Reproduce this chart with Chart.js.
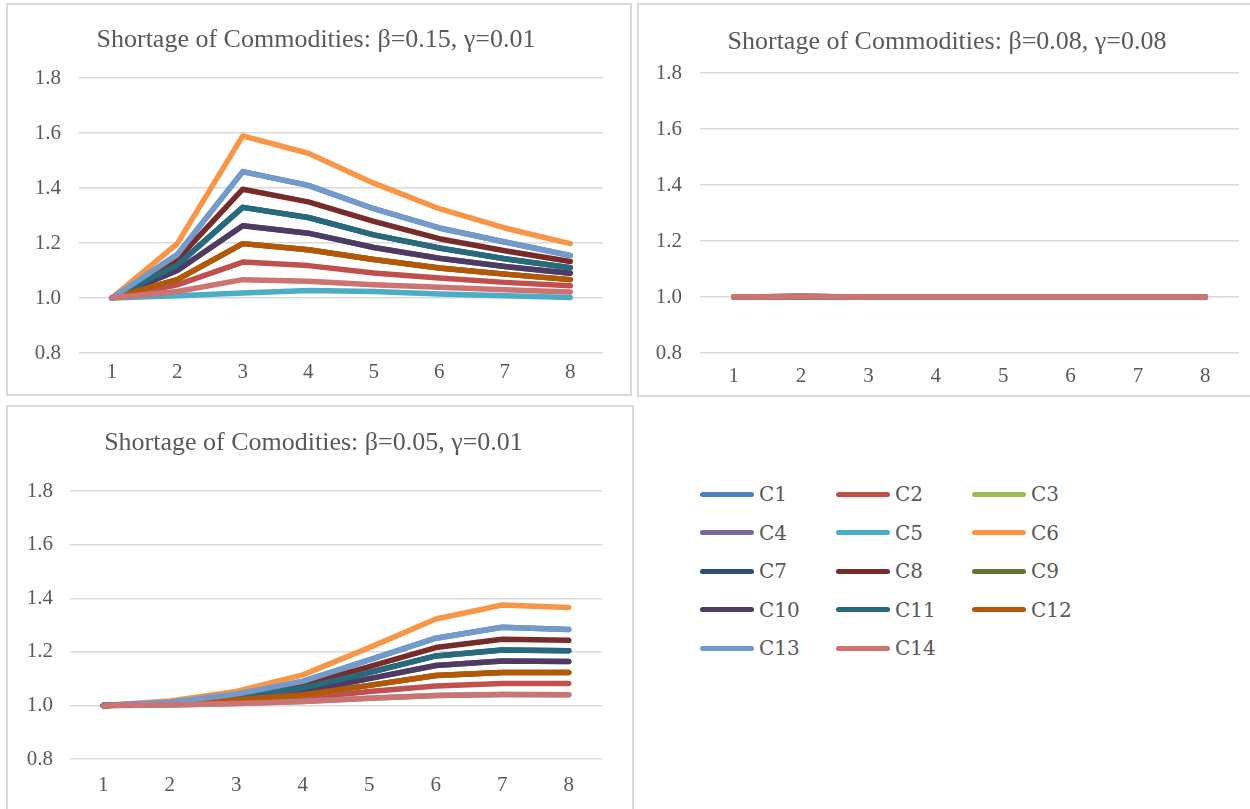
<!DOCTYPE html>
<html lang="en">
<head>
    <meta charset="UTF-8">
    <title>Shortage of Commodities</title>
    <script src="https://cdn.jsdelivr.net/npm/chart.js@4.4.0/dist/chart.umd.min.js"></script>
    <style>
        body { margin: 0; background: #ffffff; width: 1250px; height: 809px; overflow: hidden; position: relative; }
        .panel { position: absolute; border: 2px solid #d9d9d9; box-sizing: content-box; }
        .panel canvas { display: block; }
        #legend { position: absolute; left: 700px; top: 480px; font-family: "DejaVu Serif", serif; font-size: 20px; color: #595959; }
        .item { position: absolute; height: 28px; display: flex; align-items: center; white-space: nowrap; }
        .swatch { width: 54px; height: 5px; border-radius: 3px; margin-right: 5px; }
    </style>
</head>
<body>
    <div class="panel" style="left:6px; top:3px;"><canvas id="chartA" width="622" height="389"></canvas></div>
    <div class="panel" style="left:637px; top:3px;"><canvas id="chartB" width="620" height="390"></canvas></div>
    <div class="panel" style="left:6px; top:405px;"><canvas id="chartC" width="624" height="410"></canvas></div>
    <div id="legend"></div>

    <script>
        // x categories and series names
        const periods = ['1', '2', '3', '4', '5', '6', '7', '8'];
        const commodities = ['C1', 'C2', 'C3', 'C4', 'C5', 'C6', 'C7', 'C8', 'C9', 'C10', 'C11', 'C12', 'C13', 'C14'];
        const colours = ['#4F81BD', '#C0504D', '#9BBB59', '#8064A2', '#4BACC6', '#F79646', '#2C4D75',
                         '#772C2A', '#5F7530', '#4D3B62', '#276A7C', '#B65708', '#729ACA', '#CD7371'];
        const yTicks = [0.8, 1.0, 1.2, 1.4, 1.6, 1.8];

        // beta=0.15, gamma=0.01  (one row per commodity C1..C14)
        const shortageA = [
            [1, 1.158, 1.46, 1.41, 1.325, 1.255, 1.204, 1.155],
            [1, 1.048, 1.131, 1.118, 1.091, 1.073, 1.057, 1.045],
            [1, 1.067, 1.198, 1.176, 1.14, 1.109, 1.087, 1.067],
            [1, 1.10, 1.263, 1.236, 1.184, 1.145, 1.115, 1.09],
            [1, 1.008, 1.018, 1.027, 1.024, 1.015, 1.008, 1.002],
            [1, 1.198, 1.59, 1.527, 1.418, 1.325, 1.255, 1.198],
            [1, 1.12, 1.33, 1.293, 1.23, 1.182, 1.143, 1.11],
            [1, 1.14, 1.396, 1.35, 1.279, 1.216, 1.172, 1.133],
            [1, 1.067, 1.198, 1.176, 1.14, 1.109, 1.087, 1.067],
            [1, 1.10, 1.263, 1.236, 1.184, 1.145, 1.115, 1.09],
            [1, 1.12, 1.33, 1.293, 1.23, 1.182, 1.143, 1.11],
            [1, 1.067, 1.198, 1.176, 1.14, 1.109, 1.087, 1.067],
            [1, 1.158, 1.46, 1.41, 1.325, 1.255, 1.204, 1.155],
            [1, 1.024, 1.067, 1.061, 1.048, 1.039, 1.03, 1.022]
        ];

        // beta=0.08, gamma=0.08
        const shortageB = [
            [1, 1.002, 1, 1, 1, 1, 1, 1],
            [1, 1.002, 1, 1, 1, 1, 1, 1],
            [1, 1.001, 1, 1, 1, 1, 1, 1],
            [1, 1.001, 1, 1, 1, 1, 1, 1],
            [1, 1.001, 1, 1, 1, 1, 1, 1],
            [1, 1.003, 1, 1, 1, 1, 1, 1],
            [1, 1.002, 1, 1, 1, 1, 1, 1],
            [1, 1.002, 1, 1, 1, 1, 1, 1],
            [1, 1.001, 1, 1, 1, 1, 1, 1],
            [1, 1.001, 1, 1, 1, 1, 1, 1],
            [1, 1.001, 1, 1, 1, 1, 1, 1],
            [1, 1.001, 1, 1, 1, 1, 1, 1],
            [1, 1.002, 1, 1, 1, 1, 1, 1],
            [1, 1.001, 1, 1, 1, 1, 1, 1]
        ];

        // beta=0.05, gamma=0.01
        const shortageC = [
            [1, 1.012, 1.043, 1.09, 1.17, 1.251, 1.292, 1.284],
            [1, 1.004, 1.015, 1.027, 1.052, 1.073, 1.082, 1.082],
            [1, 1.005, 1.021, 1.04, 1.075, 1.112, 1.123, 1.123],
            [1, 1.006, 1.025, 1.052, 1.1, 1.149, 1.166, 1.164],
            [1, 1.002, 1.007, 1.015, 1.027, 1.037, 1.041, 1.04],
            [1, 1.017, 1.052, 1.114, 1.216, 1.323, 1.375, 1.366],
            [1, 1.007, 1.03, 1.065, 1.123, 1.185, 1.207, 1.204],
            [1, 1.009, 1.034, 1.075, 1.145, 1.216, 1.247, 1.243],
            [1, 1.005, 1.021, 1.04, 1.075, 1.112, 1.123, 1.123],
            [1, 1.006, 1.025, 1.052, 1.1, 1.149, 1.166, 1.164],
            [1, 1.007, 1.03, 1.065, 1.123, 1.185, 1.207, 1.204],
            [1, 1.005, 1.021, 1.04, 1.075, 1.112, 1.123, 1.123],
            [1, 1.012, 1.043, 1.09, 1.17, 1.251, 1.292, 1.284],
            [1, 1.002, 1.007, 1.015, 1.027, 1.037, 1.041, 1.04]
        ];

        const textColour = '#595959';
        const serif = '"Liberation Serif", "Times New Roman", serif';

        function makeChart(id, title, rows, lay) {
            const ctx = document.getElementById(id).getContext('2d');
            return new Chart(ctx, {
                type: 'line',
                data: {
                    labels: periods,
                    datasets: rows.map((row, i) => ({
                        label: commodities[i],
                        data: row,
                        borderColor: colours[i],
                        backgroundColor: colours[i],
                        borderWidth: 5.5,
                        borderCapStyle: 'round',
                        borderJoinStyle: 'round',
                        pointRadius: 0,
                        tension: 0,
                        fill: false,
                        // later commodities are drawn on top, like the original
                        order: rows.length - i
                    }))
                },
                options: {
                    responsive: false,
                    animation: false,
                    devicePixelRatio: 1,
                    layout: { padding: { left: lay.left, right: lay.right, top: 0, bottom: lay.bottom } },
                    plugins: {
                        legend: { display: false },
                        tooltip: { enabled: false },
                        title: {
                            display: true,
                            text: title,
                            color: textColour,
                            font: { family: serif, size: 26, weight: 'normal' },
                            padding: { top: lay.titleTop, bottom: lay.titleBottom }
                        }
                    },
                    scales: {
                        x: {
                            offset: true,
                            grid: { display: false, drawTicks: false },
                            border: { display: false },
                            ticks: { color: textColour, font: { family: serif, size: 21 }, padding: lay.xPad, maxRotation: 0 },
                            afterFit: (s) => { s.height = lay.xHeight; }
                        },
                        y: {
                            min: yTicks[0],
                            max: yTicks[yTicks.length - 1],
                            afterBuildTicks: (s) => { s.ticks = yTicks.map(v => ({ value: v })); },
                            grid: { color: '#d9d9d9', lineWidth: 1.5, drawTicks: false },
                            border: { display: false },
                            ticks: {
                                color: textColour,
                                font: { family: serif, size: 21 },
                                padding: lay.yPad,
                                callback: (v) => Number(v).toFixed(1)
                            },
                            afterFit: (s) => { s.width = lay.yWidth; }
                        }
                    }
                }
            });
        }

        makeChart('chartA', 'Shortage of Commodities: \u03b2=0.15, \u03b3=0.01', shortageA,
            { left: 21, right: 27, bottom: 11, titleTop: 20, titleBottom: 22, xPad: 7, xHeight: 30, yPad: 18, yWidth: 50 });
        makeChart('chartB', 'Shortage of Commodities: \u03b2=0.08, \u03b3=0.08', shortageB,
            { left: 16, right: 20, bottom: 8, titleTop: 22, titleBottom: 15, xPad: 11, xHeight: 34, yPad: 18, yWidth: 45 });
        makeChart('chartC', 'Shortage of Comodities: \u03b2=0.05, \u03b3=0.01', shortageC,
            { left: 17, right: 30, bottom: 18, titleTop: 21, titleBottom: 32, xPad: 14, xHeight: 40, yPad: 17, yWidth: 45 });

        // legend in three columns
        const legend = document.getElementById('legend');
        commodities.forEach((name, i) => {
            const item = document.createElement('div');
            item.className = 'item';
            item.style.left = (i % 3) * 136 + 'px';
            item.style.top = Math.floor(i / 3) * 38.5 + 'px';
            const sw = document.createElement('span');
            sw.className = 'swatch';
            sw.style.background = colours[i];
            const label = document.createElement('span');
            label.textContent = name;
            item.appendChild(sw);
            item.appendChild(label);
            legend.appendChild(item);
        });
    </script>
</body>
</html>
